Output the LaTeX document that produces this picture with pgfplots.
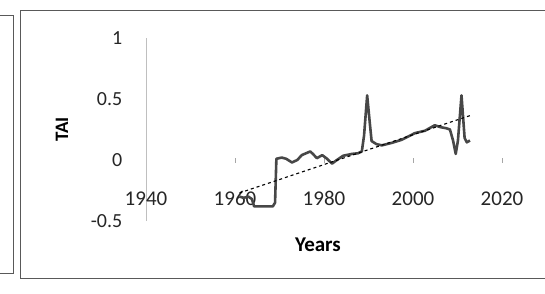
\documentclass[border=0pt]{standalone}
\usepackage{fontspec}
\setmainfont{Carlito}
\usepackage{pgfplots}
\pgfplotsset{compat=1.18}
\begin{document}
\begin{tikzpicture}[x=1pt,y=1pt]
\useasboundingbox (0,0) rectangle (545,293);
% frames of the panels
\draw[black!65, line width=0.9pt] (-10,20) -- (13,20) -- (13,278) -- (-10,278);
\draw[black!65, line width=0.9pt] (560,283) -- (20,283) -- (20,15) -- (560,15);
\begin{axis}[
  at={(146pt,72pt)}, anchor=south west,
  scale only axis, width=356pt, height=183pt,
  xmin=1940, xmax=2020, ymin=-0.5, ymax=1,
  axis x line=middle, axis y line=left,
  axis line style={-},
  x axis line style={draw=none},
  y axis line style={draw=black!25, line width=0.8pt},
  hide obscured x ticks=false, hide obscured y ticks=false,
  xtick={1940,1960,1980,2000,2020},
  xticklabels={1940,1960,1980,2000,2020},
  ytick={-0.5,0,0.5,1},
  yticklabels={-0.5,0,0.5,1},
  major tick length=5pt,
  xtick style={draw=black!35, line width=0.7pt},
  ytick style={draw=none},
  xticklabel style={font=\fontsize{21}{24}\selectfont, text=black!85, anchor=center, inner sep=0pt, yshift=-36pt},
  yticklabel style={font=\fontsize{20}{24}\selectfont, text=black!85, anchor=east, inner sep=0pt, xshift=-21pt},
  xlabel={Years}, ylabel={TAI},
  xlabel style={at={(axis description cs:0.483,-0.131)}, anchor=center, font=\bfseries\fontsize{21}{24}\selectfont},
  ylabel style={at={(axis description cs:-0.236,0.5)}, anchor=center, rotate=0, font=\bfseries\fontsize{19}{22}\selectfont},
  clip=false,
]
\addplot[color=black!72, line width=2.6pt, line join=round] coordinates {
(1961.0,-0.30) (1962.0,-0.31) (1963.0,-0.30) (1963.8,-0.32) (1964.3,-0.38)
(1966.0,-0.38) (1968.5,-0.38) (1969.0,-0.35) (1969.3,0.01) (1970.5,0.02)
(1971.5,0.01) (1972.8,-0.02) (1974.0,0.00) (1975.0,0.04) (1976.9,0.07)
(1977.5,0.05) (1978.4,0.015) (1979.6,0.04) (1980.7,0.01) (1981.8,-0.03)
(1982.9,0.00) (1984.3,0.035) (1986.3,0.05) (1987.6,0.055) (1988.5,0.07)
(1989.0,0.20) (1989.7,0.53) (1990.3,0.30) (1990.7,0.155) (1991.8,0.13)
(1993.0,0.12) (1995.2,0.14) (1997.4,0.165) (1998.8,0.19) (2000.4,0.22)
(2002.7,0.24) (2004.9,0.285) (2006.1,0.27) (2007.5,0.26) (2008.3,0.25)
(2009.0,0.16) (2009.6,0.05) (2010.1,0.16) (2010.9,0.53) (2011.6,0.18)
(2012.1,0.145) (2012.8,0.16)
};
\addplot[black, line width=1.1pt, dash pattern=on 3pt off 3pt] coordinates {(1961,-0.27) (2013.3,0.37)};
\end{axis}
\end{tikzpicture}
\end{document}
